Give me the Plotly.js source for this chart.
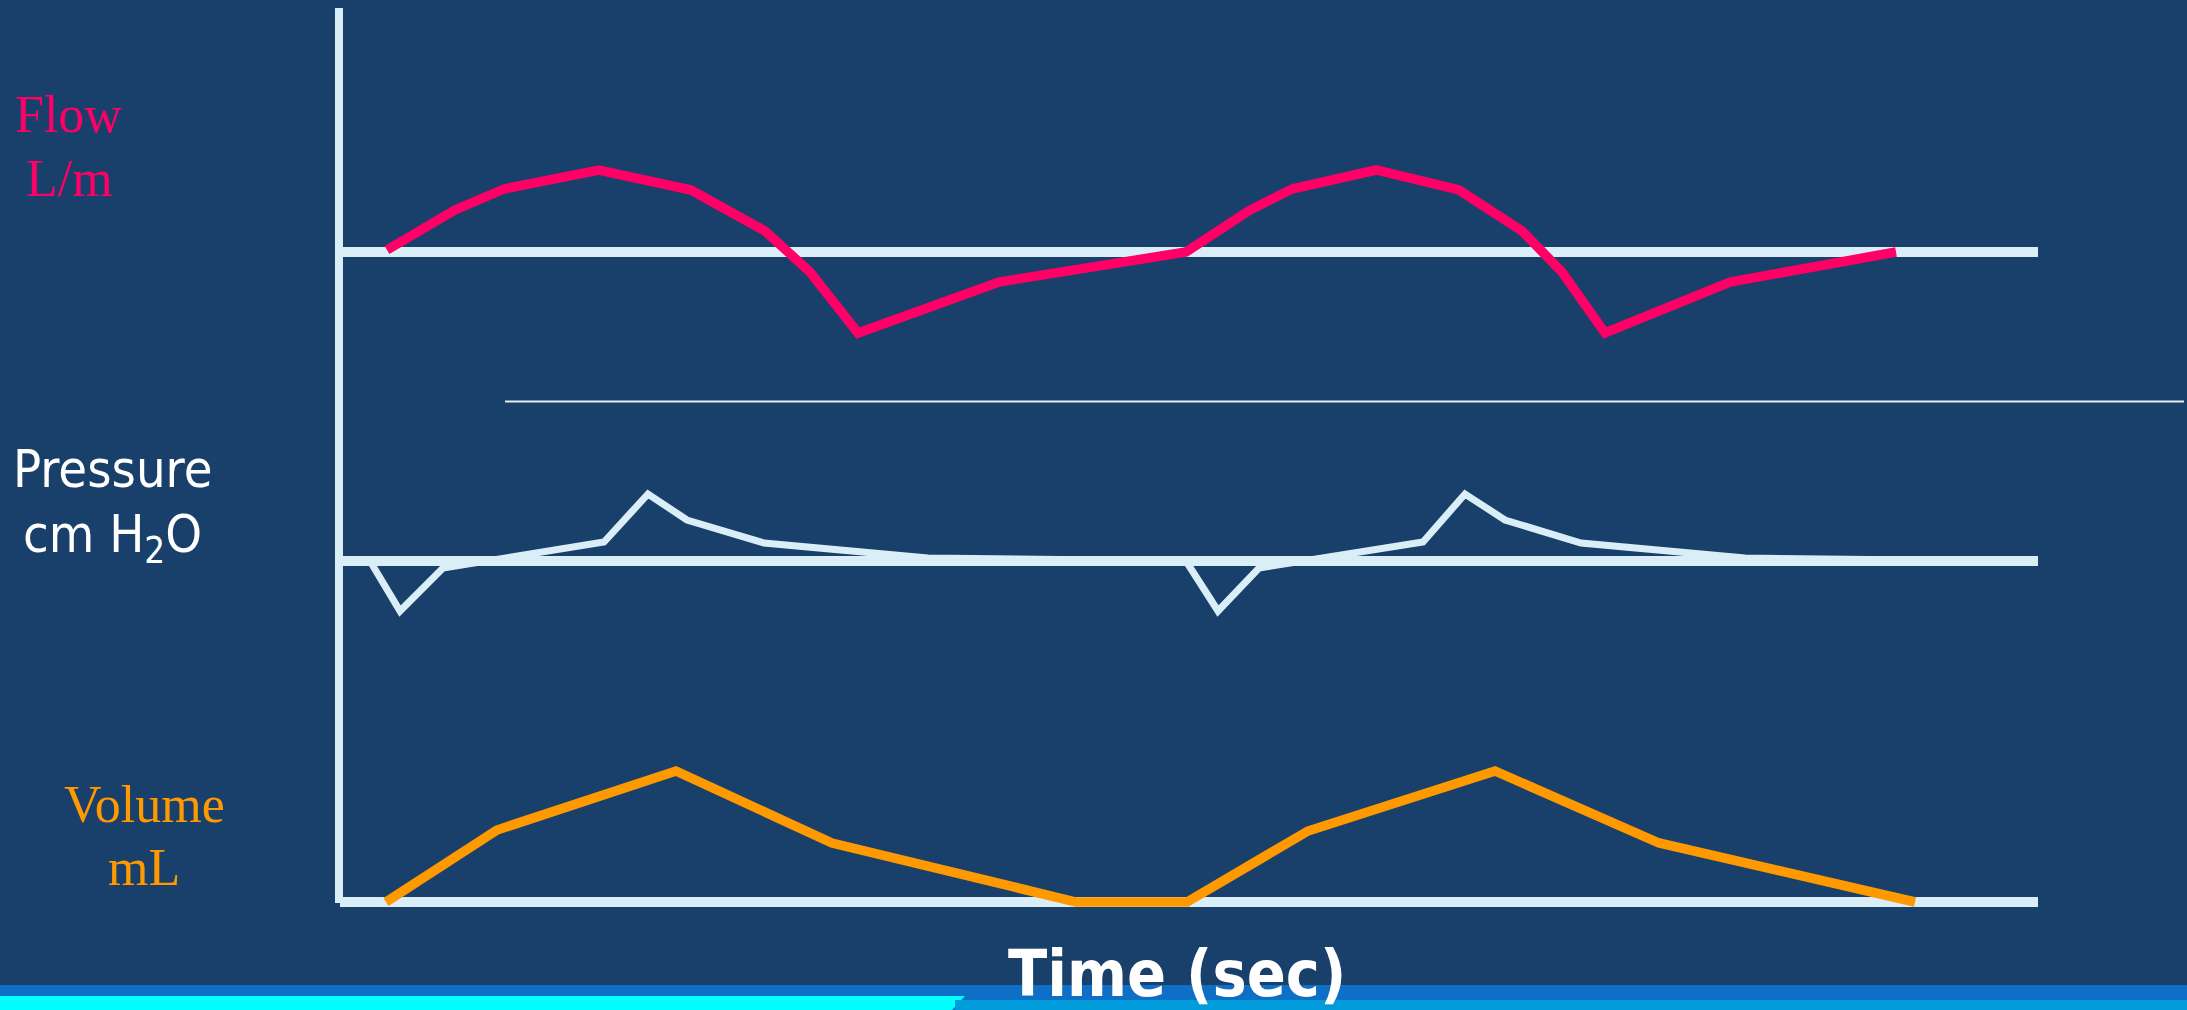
<!DOCTYPE html>
<html>
<head>
<meta charset="utf-8">
<script src="https://cdn.plot.ly/plotly-3.0.1.min.js"></script>
<style>
  html, body { margin: 0; padding: 0; background: #193F6B; }
  #chart { width: 2187px; height: 1010px; }
</style>
</head>
<body>
<div id="chart"></div>
<script>
// ---- Data (time in seconds) ----
const flowTime = [0.235, 0.575, 0.82, 1.295, 1.755, 2.125, 2.35, 2.59, 3.295, 4.23, 4.55, 4.76, 5.18, 5.595, 5.91, 6.11, 6.325, 6.95, 7.78];
const flowLpm  = [1, 21, 31.5, 41, 31, 10.5, -10, -40.5, -15, 0, 21, 31.5, 41, 31, 10.5, -10, -40.5, -15, 0];

const pressureTime   = [0.15, 0.3, 0.515, 1.32, 1.54, 1.735, 2.12, 2.94, 4.23, 4.39, 4.595, 5.415, 5.625, 5.825, 6.205, 7.025, 8.34];
const pressureCmH2O  = [0, -12.5, -1.75, 4.75, 16.75, 10.25, 4.5, 0.75, 0, -12.5, -1.75, 4.75, 16.75, 10.25, 4.5, 0.75, 0];

const volumeTime = [0.23, 0.785, 1.68, 2.46, 3.68, 4.235, 4.84, 5.775, 6.595, 7.875];
const volumeMl   = [0, 288, 524, 236, 0, 0, 284, 524, 236, 0];

const timeAxisEnd = 8.49;          // end of baseline traces (s)
const separatorSpan = [0.825, 9.22];

const labelLines = ["Flow", "L/m", "Pressure", "cm H<sub>2</sub>O", "Volume", "mL"];
const xTitle = "Time (sec)";

// ---- Styles ----
const BG = "#193F6B";
const AXIS = "#DAEEF8";
const PINK = "#FF0066";
const ORANGE = "#FF9900";
const H = 1010, W = 2187;
const py = p => 1 - p / H;   // pixel-from-top -> paper
const px = p => p / W;

const traces = [
  { x: flowTime, y: flowLpm, yaxis: "y", mode: "lines", line: { color: PINK, width: 9.5, shape: "linear" }, hoverinfo: "skip" },
  { x: pressureTime, y: pressureCmH2O, yaxis: "y2", mode: "lines", line: { color: AXIS, width: 7 }, hoverinfo: "skip" },
  { x: volumeTime, y: volumeMl, yaxis: "y3", mode: "lines", line: { color: ORANGE, width: 9.5 }, hoverinfo: "skip" }
];

const hidden = { visible: false, showgrid: false, zeroline: false, fixedrange: true };

const serif = "Liberation Serif, Times New Roman, serif";
const sans = "DejaVu Sans Condensed, DejaVu Sans, sans-serif";

const layout = {
  width: W, height: H,
  margin: { l: 0, r: 0, t: 0, b: 0, pad: 0 },
  paper_bgcolor: BG, plot_bgcolor: BG,
  showlegend: false,
  xaxis: Object.assign({ range: [-1.7, 9.235] }, hidden),
  yaxis: Object.assign({ range: [-379, 126] }, hidden),
  yaxis2: Object.assign({ range: [-112.25, 140.25], overlaying: "y" }, hidden),
  yaxis3: Object.assign({ range: [-432, 3608], overlaying: "y" }, hidden),
  shapes: [
    // bottom decorative band
    { type: "rect", xref: "paper", yref: "paper", x0: 0, x1: 1, y0: 0, y1: 25 / H, fillcolor: "#0F6FC7", line: { width: 0 }, layer: "below" },
    { type: "path", xref: "paper", yref: "paper", path: `M 0 0 L ${px(952)} 0 L ${px(965)} ${14 / H} L 0 ${14 / H} Z`, fillcolor: "#00FFFF", line: { width: 0 }, layer: "below" },
    { type: "rect", xref: "paper", yref: "paper", x0: px(955), x1: 1, y0: 0, y1: 10 / H, fillcolor: "#009BDB", line: { width: 0 }, layer: "below" },
    // vertical axis
    { type: "line", xref: "x", yref: "paper", x0: -0.005, x1: -0.005, y0: py(903), y1: py(8), line: { color: AXIS, width: 8 }, layer: "below" },
    // baselines
    { type: "line", xref: "x", yref: "y", x0: 0, x1: timeAxisEnd, y0: 0, y1: 0, line: { color: AXIS, width: 10 }, layer: "below" },
    { type: "line", xref: "x", yref: "y2", x0: 0, x1: timeAxisEnd, y0: 0, y1: 0, line: { color: AXIS, width: 10 }, layer: "below" },
    { type: "line", xref: "x", yref: "y3", x0: 0, x1: timeAxisEnd, y0: 0, y1: 0, line: { color: AXIS, width: 10 }, layer: "below" },
    // thin separator
    { type: "line", xref: "x", yref: "paper", x0: separatorSpan[0], x1: separatorSpan[1], y0: py(401.5), y1: py(401.5), line: { color: "#E6EEF5", width: 2 }, layer: "below" }
  ],
  annotations: [
    { text: labelLines[0], x: px(68), y: py(115), font: { family: serif, size: 52, color: PINK } },
    { text: labelLines[1], x: px(69), y: py(179), font: { family: serif, size: 52, color: PINK } },
    { text: labelLines[2], x: px(112), y: py(469), font: { family: sans, size: 52, color: "#FFFFFF" } },
    { text: labelLines[3], x: px(112), y: py(538), font: { family: sans, size: 52, color: "#FFFFFF" } },
    { text: labelLines[4], x: px(144), y: py(804), font: { family: serif, size: 52, color: ORANGE } },
    { text: labelLines[5], x: px(144), y: py(867), font: { family: serif, size: 52, color: ORANGE } },
    { text: xTitle, x: px(1177), y: py(974), font: { family: sans, size: 64, color: "#FFFFFF", weight: "bold" } }
  ].map(a => Object.assign({ xref: "paper", yref: "paper", showarrow: false, xanchor: "center", yanchor: "middle" }, a))
};

Plotly.newPlot("chart", traces, layout, { staticPlot: true, displayModeBar: false });
</script>
</body>
</html>
